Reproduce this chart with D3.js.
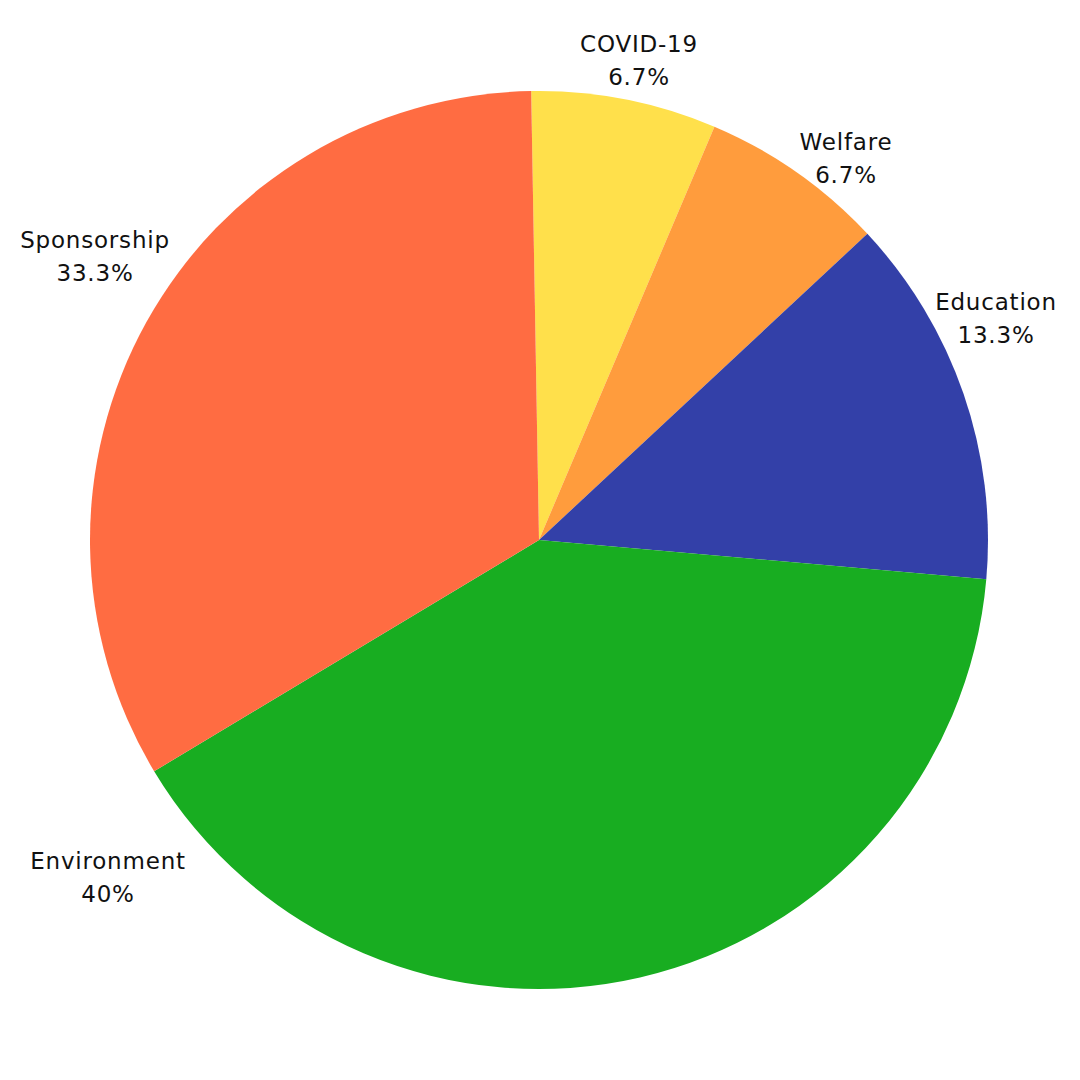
<!DOCTYPE html>
<html>
<head>
<meta charset="utf-8">
<script src="https://cdn.jsdelivr.net/npm/d3@7"></script>
<style>
  html, body { margin: 0; padding: 0; background: #ffffff; }
  svg text { font-family: "DejaVu Sans", "Open Sans", sans-serif; }
</style>
</head>
<body>
<div id="chart"></div>
<script>
// data
var categories = ["COVID-19", "Welfare", "Education", "Environment", "Sponsorship"];
var counts = [1, 1, 2, 6, 5];
var pctLabels = ["6.7%", "6.7%", "13.3%", "40%", "33.3%"];
var colors = ["#FFE04B", "#FF9C3D", "#3340A8", "#18AD21", "#FF6C42"];

// layout
var w = 1080, h = 1080;
var cx = 539, cy = 540, radius = 449;
// label anchors (center of the two-line label, relative to page)
var labelPos = [[639, 60], [846, 158], [996, 318], [95, 256], [108, 877]];
// order of labelPos: COVID-19, Welfare, Education, Sponsorship, Environment
var labelFor = { "COVID-19": 0, "Welfare": 1, "Education": 2, "Sponsorship": 3, "Environment": 4 };

var data = categories.map(function(c, i) {
  return { name: c, value: counts[i], pct: pctLabels[i], color: colors[i] };
});

var svg = d3.select("#chart")
  .append("svg")
    .attr("width", w)
    .attr("height", h);

var g = svg.append("g")
  .attr("transform", "translate(" + cx + "," + cy + ")");

var start = -1 * Math.PI / 180;
var pie = d3.pie()
  .sort(null)
  .value(function(d) { return d.value; })
  .startAngle(start)
  .endAngle(start + 2 * Math.PI);

var arc = d3.arc().innerRadius(0).outerRadius(radius);

//Slices
g.selectAll("path.slice")
  .data(pie(data))
  .enter()
  .append("path")
    .attr("class", "slice")
    .attr("d", arc)
    .attr("fill", function(d) { return d.data.color; });

//Labels
var labels = svg.selectAll("g.label")
  .data(data)
  .enter()
  .append("g")
    .attr("class", "label")
    .attr("transform", function(d) {
      var p = labelPos[labelFor[d.name]];
      return "translate(" + p[0] + "," + p[1] + ")";
    });

labels.append("text")
  .attr("text-anchor", "middle")
  .attr("y", -8)
  .attr("font-size", 23)
  .attr("letter-spacing", 0.8)
  .attr("fill", "#111")
  .text(function(d) { return d.name; });

labels.append("text")
  .attr("text-anchor", "middle")
  .attr("y", 25)
  .attr("font-size", 23)
  .attr("letter-spacing", 0.8)
  .attr("fill", "#111")
  .text(function(d) { return d.pct; });
</script>
</body>
</html>
